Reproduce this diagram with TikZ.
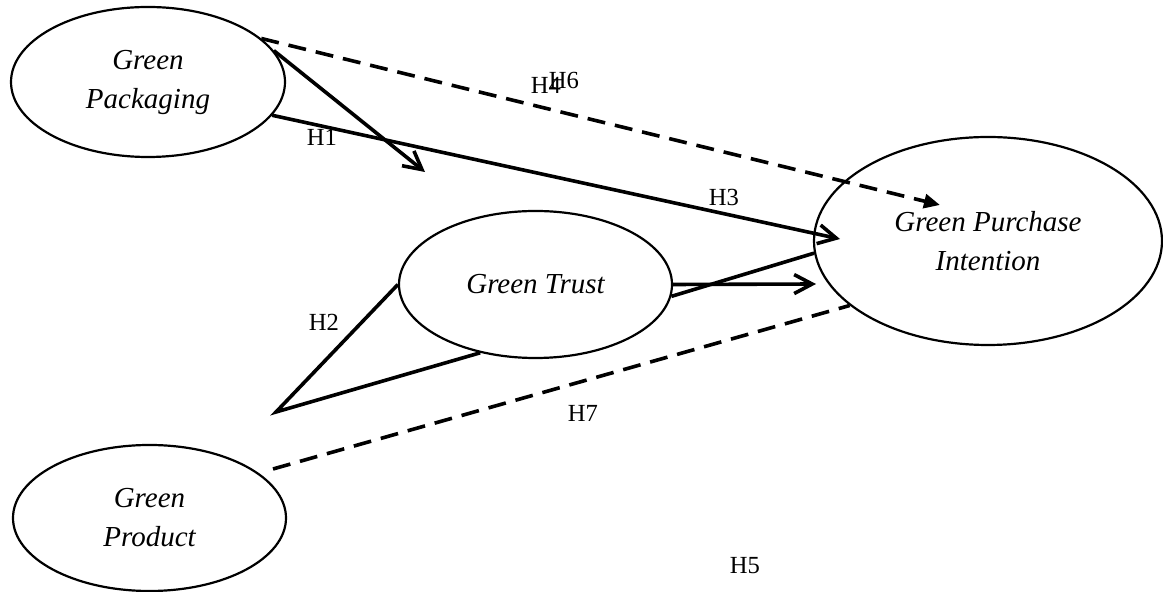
\documentclass[tikz,border=0pt]{standalone}
\usepackage{fontspec}
\setmainfont{Liberation Serif}
\usetikzlibrary{shapes.geometric,arrows.meta}

\tikzset{
	latent/.style = {draw, ellipse, line width=1.1pt, inner sep=0pt, align=center,
		font=\fontsize{14.5}{19.5}\selectfont\itshape},
	hlabel/.style = {inner sep=0pt, font=\fontsize{12.3}{14}\selectfont},
	link/.style = {line width=1.8pt, >={Straight Barb[length=9pt,width=9.5pt]}},
	dashlink/.style = {line width=1.8pt, dash pattern=on 9pt off 5pt},
}

\begin{document}
\begin{tikzpicture}[x=0.5pt, y=-0.5pt]
	\useasboundingbox (0,0) rectangle (1163,592);
	%
	\node[latent, minimum width=137pt, minimum height=75pt] (pack) at (148,82) {Green\\Packaging};
	\node[latent, minimum width=136.5pt, minimum height=73pt] (prod) at (149.5,518) {Green\\Product};
	\node[latent, minimum width=136.5pt, minimum height=73.5pt] (trust) at (535.5,284.5) {Green Trust};
	\node[latent, minimum width=174pt, minimum height=104pt] (intent) at (988,241) {Green Purchase\\Intention};
	%
	\coordinate (h1end) at (425,172);
	\coordinate (h3end) at (840,239);
	\coordinate (h46end) at (940,205);
	\coordinate (trustend) at (816,284);
	\coordinate (h2corner) at (276,412);
	\coordinate (h7start) at (273,469);
	%
	\draw[link, ->] (pack.14.5) -- (h1end);
	\draw[link, ->] (pack.-15) -- (h3end);
	\draw[dashlink, -{Triangle[length=8pt,width=7pt]}] (pack.21.4) -- (h46end);
	%
	\draw[link] (trust.west) -- (h2corner) -- (trust.-129);
	\draw[link, ->] (trust.east) -- (trustend);
	\draw[link] (trust.-5) -- (intent.184.7);
	\draw[dashlink] (h7start) -- (intent.-155);
	%
	\node[hlabel] (h6) at (564,80) {H6};
	\node[hlabel] (h4) at (546,85) {H4};
	\node[hlabel] (h1) at (322,137) {H1};
	\node[hlabel] (h3) at (724,197) {H3};
	\node[hlabel] (h2) at (324,322) {H2};
	\node[hlabel] (h7) at (583,413) {H7};
	\node[hlabel] (h5) at (745,566) {H5};
	%
\end{tikzpicture}
\end{document}
